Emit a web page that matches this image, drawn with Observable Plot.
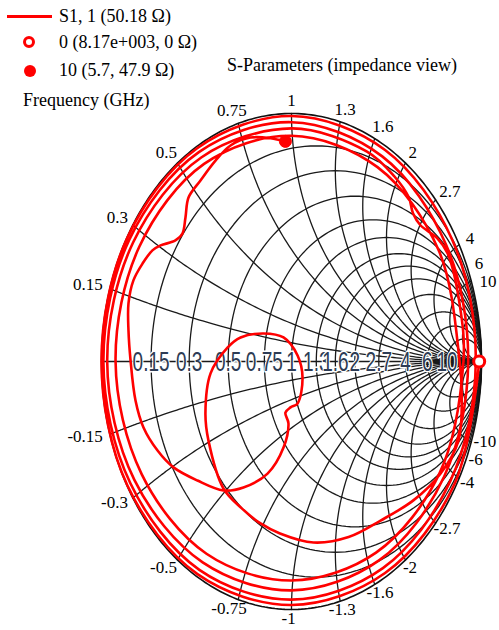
<!DOCTYPE html>
<html><head><meta charset="utf-8">
<script src="https://cdn.jsdelivr.net/npm/d3@7"></script>
<script src="https://cdn.jsdelivr.net/npm/@observablehq/plot@0.6"></script>
<style>
body{margin:0;background:#fff;}
#wrap{position:relative;width:499px;height:630px;overflow:hidden;background:#fff;}
#wrap svg{position:absolute;left:0;top:0;}
.leg{position:absolute;font-family:"Liberation Serif","Times New Roman",serif;font-size:18px;color:#000;white-space:nowrap;line-height:18px;}
.sw{position:absolute;}
</style></head><body><div id="wrap"></div>
<script>
// Smith chart grid values (resistance circles and reactance arcs) and their labels
const gridValues = [0.15, 0.3, 0.5, 0.75, 1, 1.3, 1.6, 2, 2.7, 4, 6, 10];
const gridLabels = ["0.15", "0.3", "0.5", "0.75", "1", "1.3", "1.6", "2", "2.7", "4", "6", "10"];

// S1,1 trace, part near the rim: angle of Γ (degrees, running clockwise) and |Γ|
const rimAngle = [0, -30, -60, -90, -120, -150, -180, -210, -240, -270, -300, -330, -360,
  -390, -420, -450, -480, -510, -540, -570, -600, -630, -660, -690, -720,
  -750, -780, -810, -840, -870, -900, -930, -960, -990, -1015, -1026, -1033, -1037, -1041, -1047, -1052, -1065, -1080,
  -1110, -1140, -1170, -1200, -1230, -1260, -1290, -1320, -1350, -1380, -1410, -1440,
  -1450, -1460, -1470, -1481, -1494, -1507, -1521, -1535, -1544, -1554];
const rimMag = [0.988, 0.99, 0.985, 0.982, 0.99, 0.998, 1.0, 0.998, 0.993, 0.99, 0.985, 0.978, 0.97,
  0.965, 0.962, 0.96, 0.97, 0.98, 0.99, 0.985, 0.975, 0.965, 0.955, 0.94, 0.93,
  0.928, 0.925, 0.923, 0.935, 0.955, 0.97, 0.962, 0.95, 0.94, 0.935, 0.922, 0.905, 0.875, 0.873, 0.914, 0.93, 0.915, 0.905,
  0.9, 0.89, 0.883, 0.895, 0.91, 0.926, 0.925, 0.92, 0.91, 0.905, 0.895, 0.885,
  0.91, 0.935, 0.905, 0.852, 0.794, 0.769, 0.739, 0.696, 0.673, 0.647];

// S1,1 trace, inner part (loop near the centre and the return to the top): Re Γ, Im Γ
const innerRe = [-0.358, -0.437, -0.453, -0.426, -0.337, -0.268, -0.147, -0.042, 0.032, 0.058, 0.032, -0.005, -0.032, -0.016, -0.042, -0.126, -0.253, -0.358,
  -0.495, -0.621, -0.705, -0.779, -0.821, -0.847, -0.858, -0.858, -0.832, -0.784, -0.732, -0.689, -0.611, -0.574, -0.558, -0.542, -0.479, -0.4, -0.321, -0.216, -0.11, -0.032];
const innerIm = [-0.512, -0.319, -0.21, -0.048, 0.056, 0.097, 0.113, 0.097, 0.024, -0.065, -0.169, -0.185, -0.206, -0.25, -0.347, -0.452, -0.508, -0.52,
  -0.48, -0.427, -0.359, -0.266, -0.157, 0.004, 0.125, 0.234, 0.327, 0.395, 0.448, 0.468, 0.488, 0.516, 0.581, 0.661, 0.73, 0.81, 0.871, 0.903, 0.9, 0.887];

// markers: frequency (GHz), resistance and reactance (Ω)
const markerFreq = ["0", "10"];
const markerR = [8170, 5.7];
const markerX = [0, 47.9];
const Z0 = 50;

// ---- geometry of the plotting frame
const cx = 291, cy = 361, RX = 190, RY = 248;
const rad = Math.PI / 180;
const BAND_COLOR = "#2d3c55";

// grid lines
const gridPts = [];
gridValues.forEach((r, k) => {
  const c = r / (1 + r), rr = 1 / (1 + r);
  for (let t = 0; t <= 360; t += 2) gridPts.push({re: c + rr * Math.cos(t * rad), im: rr * Math.sin(t * rad), id: "r" + k});
});
gridValues.forEach((x, k) => {
  [1, -1].forEach(s => {
    const xx = x * s;
    const ss = [0];
    for (let e = -3; e <= 4.001; e += 0.02) ss.push(Math.pow(10, e));
    ss.forEach(q => {
      const d = (q + 1) ** 2 + xx * xx;
      gridPts.push({re: (q * q - 1 + xx * xx) / d, im: 2 * xx / d, id: "x" + k + "_" + s});
    });
  });
});
const outer = d3.range(0, 361, 1).map(t => ({re: Math.cos(t * rad), im: Math.sin(t * rad)}));

// band labels on the real axis
const bandLabels = gridValues.map((r, i) => ({re: (r - 1) / (r + 1), im: 0, text: gridLabels[i]}));

// rim labels
const ctx = document.createElement("canvas").getContext("2d");
ctx.font = "17px 'Liberation Serif'";
const LRX = 198;
function rimLabels(sign) {
  const LRY = sign > 0 ? 261 : 257;
  const arr = gridValues.map((v, i) => {
    const d = v * v + 1;
    return {v, text: (sign < 0 ? "-" : "") + gridLabels[i], c: (v * v - 1) / d, dist: (2 * v / d) * LRY, w: ctx.measureText(gridLabels[i]).width};
  });
  const right = arr.filter(a => a.c > 0.8).sort((a, b) => b.v - a.v);
  let limit = 80;
  right.forEach(a => {
    if (a.dist < limit) { a.dist = limit; a.c = Math.sqrt(1 - (limit / LRY) ** 2); }
    limit = a.dist + 18;
  });
  return arr.map(a => {
    const px = cx + LRX * a.c + a.c * a.w / 2 + a.w / 2;
    const py = cy - sign * a.dist;
    return {re: (px - cx) / RX, im: (cy - py) / RY, text: a.text};
  });
}
const edgeLabels = rimLabels(1).concat(rimLabels(-1));

// trace
const trace = rimAngle.map((a, i) => ({re: rimMag[i] * Math.cos(a * rad), im: rimMag[i] * Math.sin(a * rad)}))
  .concat(innerRe.map((r, i) => ({re: r, im: innerIm[i]})));

const markers = markerR.map((R, i) => {
  const zr = R / Z0, zx = markerX[i] / Z0;
  const d = (zr + 1) ** 2 + zx * zx;
  return {re: (zr * zr - 1 + zx * zx) / d, im: 2 * zx / d, f: markerFreq[i]};
});

const chart = Plot.plot({
  width: 499, height: 630,
  margin: 0,
  x: {domain: [-1, 1], range: [cx - RX, cx + RX], axis: null},
  y: {domain: [-1, 1], range: [cy + RY, cy - RY], axis: null},
  style: {background: "transparent"},
  marks: [
    Plot.line(gridPts, {x: "re", y: "im", z: "id", stroke: "#1a1a1a", strokeWidth: 1.3}),
    Plot.line(outer, {x: "re", y: "im", stroke: "#111", strokeWidth: 1.6}),
    Plot.line([{re: -1, im: 0}, {re: 1, im: 0}], {x: "re", y: "im", stroke: "#1a1a1a", strokeWidth: 1.3}),
    Plot.text(bandLabels, {x: "re", y: "im", text: "text", fontSize: 19, fontFamily: "'Liberation Sans', Arial, sans-serif",
      fill: BAND_COLOR, stroke: "white", strokeWidth: 2}),
    Plot.text(edgeLabels, {x: "re", y: "im", text: "text", textAnchor: "end", fontSize: 17, fontFamily: "'Liberation Serif', 'Times New Roman', serif", fill: "#000"}),
    Plot.line(trace, {x: "re", y: "im", stroke: "#ff0000", strokeWidth: 2.6, curve: "catmull-rom"}),
    Plot.dot([markers[0]], {x: "re", y: "im", r: 5.5, fill: "white", stroke: "#ff0000", strokeWidth: 3}),
    Plot.dot([markers[1]], {x: "re", y: "im", r: 6, fill: "#ff0000", stroke: "#ff0000", strokeWidth: 1})
  ]
});

const wrap = document.getElementById("wrap");
wrap.appendChild(chart);

// stretch the real-axis labels vertically like the reference (tall, narrow glyphs)
Array.from(chart.querySelectorAll("text")).filter(el => {
  const g = el.closest("g");
  return g && g.getAttribute("fill") === BAND_COLOR;
}).forEach(el => {
  const tr = el.getAttribute("transform") || "";
  el.setAttribute("transform", `${tr} scale(1,1.5)`);
});

// legend and title
function addText(txt, left, top) {
  const d = document.createElement("div");
  d.className = "leg"; d.textContent = txt; d.style.left = left + "px"; d.style.top = top + "px";
  wrap.appendChild(d);
}
function addSwatch(style) {
  const d = document.createElement("div");
  d.className = "sw"; Object.assign(d.style, style);
  wrap.appendChild(d);
}
addSwatch({left: "7px", top: "15px", width: "45px", height: "3px", background: "#ff0000"});
addSwatch({left: "23px", top: "36px", width: "12px", height: "12px", border: "3px solid #ff0000", borderRadius: "50%", boxSizing: "border-box", background: "#fff"});
addSwatch({left: "24px", top: "65px", width: "12px", height: "12px", borderRadius: "50%", background: "#ff0000"});
addText("S1, 1 (50.18 Ω)", 59, 7);
addText("0 (8.17e+003, 0 Ω)", 59, 33);
addText("10 (5.7, 47.9 Ω)", 59, 61);
addText("Frequency (GHz)", 23, 91);
addText("S-Parameters (impedance view)", 227, 56);
</script>
</body></html>
